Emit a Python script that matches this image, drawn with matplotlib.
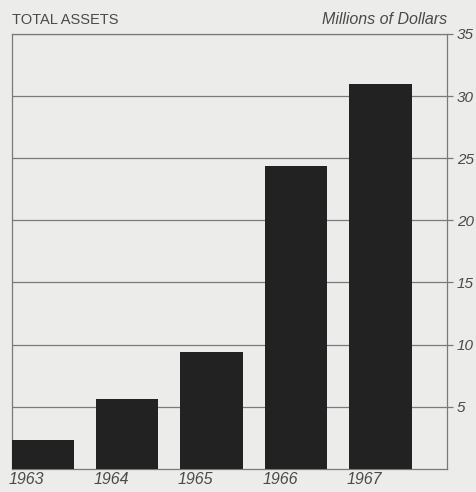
import matplotlib
matplotlib.use("Agg")
import matplotlib.pyplot as plt

# total assets by year, millions of dollars
years = ["1963", "1964", "1965", "1966", "1967"]
assets = [2.3, 5.6, 9.4, 24.4, 31.0]
y_ticks = [5, 10, 15, 20, 25, 30, 35]

BG = "#ececea"
INK = "#4a4a4a"
BAR = "#222222"
GRID = "#7a7a7a"

plt.rcParams["font.family"] = ["Liberation Sans", "DejaVu Sans"]

fig = plt.figure(figsize=(4.77, 4.92), dpi=100, facecolor=BG)
ax = fig.add_axes([0.025, 0.047, 0.912, 0.884], facecolor=BG)

width = 0.74
xs = list(range(len(years)))
ax.bar(xs, assets, width=width, color=BAR, zorder=3)

ax.set_xlim(-0.36, 4.785)
ax.set_ylim(0, 35)

# horizontal rules at each tick, running slightly past the right edge
ax.yaxis.tick_right()
ax.set_yticks(y_ticks)
ax.set_yticklabels([str(t) for t in y_ticks], fontsize=11, style="italic", color=INK)
ax.tick_params(axis="y", length=4, width=0.9, color=GRID, pad=3)
ax.grid(axis="y", color=GRID, linewidth=0.9, zorder=1)
ax.set_xticks([])

for s in ax.spines.values():
    s.set_color(GRID)
    s.set_linewidth(0.9)

# year labels sit under the left edge of each bar
for x, yr in zip(xs, years):
    ax.text(x - width / 2 - 0.03, -0.25, yr, ha="left", va="top",
            fontsize=11.5, style="italic", color=INK)

fig.text(0.026, 0.945, "TOTAL ASSETS", ha="left", va="bottom",
         fontsize=10.5, color=INK)
fig.text(0.937, 0.945, "Millions of Dollars", ha="right", va="bottom",
         fontsize=11.5, style="italic", color=INK)

fig.savefig("out.png", dpi=100, facecolor=BG)
